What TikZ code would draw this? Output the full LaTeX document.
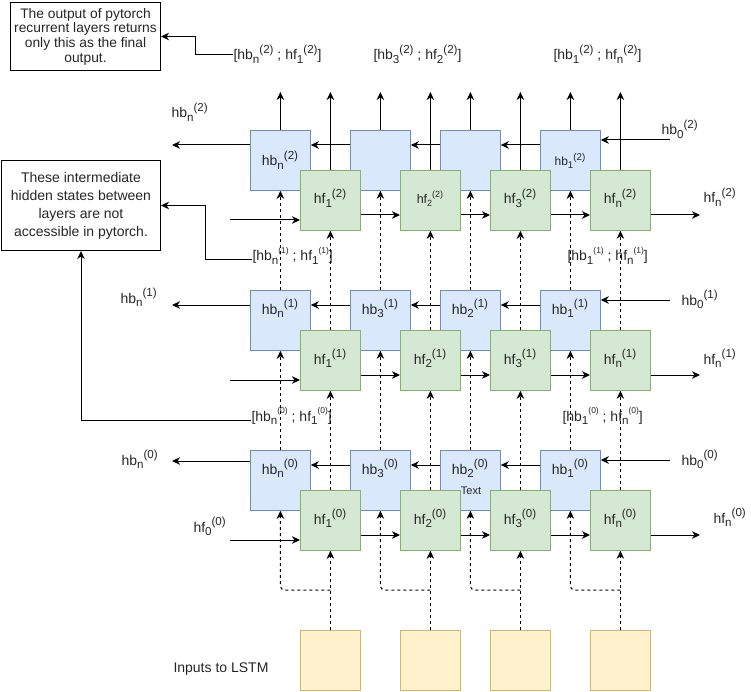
\documentclass[tikz,border=0pt]{standalone}
\usepackage{fontspec}
\setmainfont{Liberation Sans}
\usetikzlibrary{arrows.meta}
\definecolor{bfill}{HTML}{DAE8FC}\definecolor{bdraw}{HTML}{6C8EBF}
\definecolor{gfill}{HTML}{D5E8D4}\definecolor{gdraw}{HTML}{82B366}
\definecolor{yfill}{HTML}{FFF2CC}\definecolor{ydraw}{HTML}{D6B656}
\definecolor{txt}{HTML}{262626}
% base, subscript, superscript (superscript after subscript, as in HTML)
\newcommand\sx[4][11.6]{#2\raisebox{-0.22em}{\fontsize{#1}{#1}\selectfont #3}\raisebox{0.48em}{\fontsize{#1}{#1}\selectfont #4}}
\newcommand\sxs[3]{#1\raisebox{-0.22em}{\fontsize{11.6}{11.6}\selectfont #2}\raisebox{0.55em}{\fontsize{8.5}{8.5}\selectfont #3}}
\begin{document}
\begin{tikzpicture}[x=1pt,y=-1pt,line width=1pt,
  every node/.style={font=\fontsize{14}{16.8}\selectfont,text=txt,inner sep=0pt},
  boxbase/.style={minimum width=60pt,minimum height=60pt,anchor=north west,line width=0.8pt},
  hbbox/.style={boxbase,draw=bdraw,fill=bfill},
  hfbox/.style={boxbase,draw=gdraw,fill=gfill},
  inbox/.style={boxbase,draw=ydraw,fill=yfill},
  lbl/.style={anchor=base},
  lblw/.style={anchor=base west},
  arr/.style={-{Stealth[length=8pt,width=7.5pt,inset=2.5pt]}},
  dsh/.style={arr,dash pattern=on 3pt off 3pt},
  note/.style={draw,anchor=north west,align=center,line width=1pt}]
\useasboundingbox (0,0) rectangle (751,692);

% ---------- notes ----------
\node[note,minimum width=150pt,minimum height=68pt,font=\fontsize{13.8}{14.7}\selectfont] (note1) at (10,2)
  {The output of pytorch\\recurrent layers returns\\only this as the final\\output.};
\node[note,minimum width=159pt,minimum height=90pt,font=\fontsize{14}{18}\selectfont] (note2) at (1,160)
  {These intermediate\\hidden states between\\layers are not\\accessible in pytorch.};

% ---------- layer 2 ----------
\node[hbbox] (hb2a) at (250,130) {};
\node[hbbox] (hb2b) at (350,130) {};
\node[hbbox] (hb2c) at (440,130) {};
\node[hbbox] (hb2d) at (540,130) {};
\node[hfbox] (hf2a) at (300,170) {};
\node[hfbox] (hf2b) at (400,170) {};
\node[hfbox] (hf2c) at (490,170) {};
\node[hfbox] (hf2d) at (590,170) {};
% ---------- layer 1 ----------
\node[hbbox] (hb1a) at (250,290) {};
\node[hbbox] (hb1b) at (350,290) {};
\node[hbbox] (hb1c) at (440,290) {};
\node[hbbox] (hb1d) at (540,290) {};
\node[hfbox] (hf1a) at (300,330) {};
\node[hfbox] (hf1b) at (400,330) {};
\node[hfbox] (hf1c) at (490,330) {};
\node[hfbox] (hf1d) at (590,330) {};
% ---------- layer 0 ----------
\node[hbbox] (hb0a) at (250,450) {};
\node[hbbox] (hb0b) at (350,450) {};
\node[hbbox] (hb0c) at (440,450) {};
\node[hbbox] (hb0d) at (540,450) {};
\node[hfbox] (hf0a) at (300,490) {};
\node[hfbox] (hf0b) at (400,490) {};
\node[hfbox] (hf0c) at (490,490) {};
\node[hfbox] (hf0d) at (590,490) {};
% ---------- inputs ----------
\node[inbox] (ina) at (300,630) {};
\node[inbox] (inb) at (400,630) {};
\node[inbox] (inc) at (490,630) {};
\node[inbox] (ind) at (590,630) {};

% ---------- labels inside boxes ----------
\node[lbl] (t2a) at (280,166) {\sx{hb}{n}{(2)}};
\node[lbl,font=\fontsize{12}{14}\selectfont] (t2d) at (570,166) {\sx[9.8]{hb}{1}{(2)}};
\node[lbl] (u2a) at (330,204) {\sx{hf}{1}{(2)}};
\node[lbl,font=\fontsize{12.5}{14}\selectfont] (u2b) at (430,204) {\sx[9]{hf}{2}{(2)}};
\node[lbl] (u2c) at (520,204) {\sx{hf}{3}{(2)}};
\node[lbl] (u2d) at (620,204) {\sx{hf}{n}{(2)}};

\node[lbl] (t1a) at (280,314) {\sx{hb}{n}{(1)}};
\node[lbl] (t1b) at (380,314) {\sx{hb}{3}{(1)}};
\node[lbl] (t1c) at (470,314) {\sx{hb}{2}{(1)}};
\node[lbl] (t1d) at (570,314) {\sx{hb}{1}{(1)}};
\node[lbl] (u1a) at (330,364) {\sx{hf}{1}{(1)}};
\node[lbl] (u1b) at (430,364) {\sx{hf}{2}{(1)}};
\node[lbl] (u1c) at (520,364) {\sx{hf}{3}{(1)}};
\node[lbl] (u1d) at (620,364) {\sx{hf}{n}{(1)}};

\node[lbl] (t0a) at (280,474) {\sx{hb}{n}{(0)}};
\node[lbl] (t0b) at (380,474) {\sx{hb}{3}{(0)}};
\node[lbl] (t0c) at (470,474) {\sx{hb}{2}{(0)}};
\node[lbl] (t0d) at (570,474) {\sx{hb}{1}{(0)}};
\node[lbl,font=\fontsize{11}{13}\selectfont] (txt0c) at (471,494) {Text};
\node[lbl] (u0a) at (330,524) {\sx{hf}{1}{(0)}};
\node[lbl] (u0b) at (430,524) {\sx{hf}{2}{(0)}};
\node[lbl] (u0c) at (520,524) {\sx{hf}{3}{(0)}};
\node[lbl] (u0d) at (620,524) {\sx{hf}{n}{(0)}};

% ---------- outside labels ----------
\node[lblw] (ohbn2) at (171,118) {\sx{hb}{n}{(2)}};
\node[lblw] (ohb02) at (661,135) {\sx{hb}{0}{(2)}};
\node[lblw] (ohfn2) at (703,203) {\sx{hf}{n}{(2)}};
\node[lblw] (ohbn1) at (120,303) {\sx{hb}{n}{(1)}};
\node[lblw] (ohb01) at (681,305) {\sx{hb}{0}{(1)}};
\node[lblw] (ohfn1) at (703,364) {\sx{hf}{n}{(1)}};
\node[lblw] (ohbn0) at (121,465) {\sx{hb}{n}{(0)}};
\node[lblw] (ohb00) at (681,465) {\sx{hb}{0}{(0)}};
\node[lblw] (ohfn0) at (713,523) {\sx{hf}{n}{(0)}};
\node[lblw] (ohf00) at (193,532) {\sx{hf}{0}{(0)}};
\node[lblw] (inlbl) at (173,672) {Inputs to LSTM};

% ---------- bracket labels ----------
\node[lblw] (lb2a) at (233,60) {{[}\sx{hb}{n}{(2)} ; \sx{hf}{1}{(2)}{]}};
\node[lblw] (lb2b) at (373,60) {{[}\sx{hb}{3}{(2)} ; \sx{hf}{2}{(2)}{]}};
\node[lblw] (lb2c) at (553,60) {{[}\sx{hb}{1}{(2)} ; \sx{hf}{n}{(2)}{]}};
\node[lblw] (lb1a) at (252,261) {{[}\sxs{hb}{n}{(1)} ; \sxs{hf}{1}{(1)}{]}};
\node[lblw] (lb1b) at (567,261) {{[}\sxs{hb}{1}{(1)} ; \sxs{hf}{n}{(1)}{]}};
\node[lblw] (lb0a) at (251,421) {{[}\sxs{hb}{n}{(0)} ; \sxs{hf}{1}{(0)}{]}};
\node[lblw] (lb0b) at (562,421) {{[}\sxs{hb}{1}{(0)} ; \sxs{hf}{n}{(0)}{]}};

% ---------- free ends ----------
\coordinate (o2) at (172,145); \coordinate (i2) at (670,140);
\coordinate (f2) at (700,215); \coordinate (g2) at (230,220);
\coordinate (o1) at (172,305); \coordinate (i1) at (670,300);
\coordinate (f1) at (700,375); \coordinate (g1) at (230,380);
\coordinate (o0) at (172,461); \coordinate (i0) at (670,460);
\coordinate (f0) at (700,535); \coordinate (g0) at (230,540);

% ---------- top outputs ----------
\foreach \n in {hb2a,hb2b,hb2c,hb2d,hf2a,hf2b,hf2c,hf2d}
  \draw[arr] (\n.north) -- (\n.north |- 0,92);

% ---------- recurrent chains ----------
\draw[arr] (i2) -- (hb2d.east |- i2);
\draw[arr] (hb2d.west |- 0,145) -- (hb2c.east |- 0,145);
\draw[arr] (hb2c.west |- 0,145) -- (hb2b.east |- 0,145);
\draw[arr] (hb2b.west |- 0,145) -- (hb2a.east |- 0,145);
\draw[arr] (hb2a.west |- o2) -- (o2);
\draw[arr] (g2) -- (hf2a.west |- g2);
\draw[arr] (hf2a.east |- 0,215) -- (hf2b.west |- 0,215);
\draw[arr] (hf2b.east |- 0,215) -- (hf2c.west |- 0,215);
\draw[arr] (hf2c.east |- 0,215) -- (hf2d.west |- 0,215);
\draw[arr] (hf2d.east |- f2) -- (f2);

\draw[arr] (i1) -- (hb1d.east |- i1);
\draw[arr] (hb1d.west |- 0,305) -- (hb1c.east |- 0,305);
\draw[arr] (hb1c.west |- 0,305) -- (hb1b.east |- 0,305);
\draw[arr] (hb1b.west |- 0,305) -- (hb1a.east |- 0,305);
\draw[arr] (hb1a.west |- o1) -- (o1);
\draw[arr] (g1) -- (hf1a.west |- g1);
\draw[arr] (hf1a.east |- 0,375) -- (hf1b.west |- 0,375);
\draw[arr] (hf1b.east |- 0,375) -- (hf1c.west |- 0,375);
\draw[arr] (hf1c.east |- 0,375) -- (hf1d.west |- 0,375);
\draw[arr] (hf1d.east |- f1) -- (f1);

\draw[arr] (i0) -- (hb0d.east |- i0);
\draw[arr] (hb0d.west |- 0,465) -- (hb0c.east |- 0,465);
\draw[arr] (hb0c.west |- 0,465) -- (hb0b.east |- 0,465);
\draw[arr] (hb0b.west |- 0,465) -- (hb0a.east |- 0,465);
\draw[arr] (hb0a.west |- o0) -- (o0);
\draw[arr] (g0) -- (hf0a.west |- g0);
\draw[arr] (hf0a.east |- 0,535) -- (hf0b.west |- 0,535);
\draw[arr] (hf0b.east |- 0,535) -- (hf0c.west |- 0,535);
\draw[arr] (hf0c.east |- 0,535) -- (hf0d.west |- 0,535);
\draw[arr] (hf0d.east |- f0) -- (f0);

% ---------- vertical dashed links ----------
\foreach \c in {a,b,c,d}{
  \draw[dsh] (hb0\c.north) -- (hb1\c.south);
  \draw[dsh] (hb1\c.north) -- (hb2\c.south);
  \draw[dsh] (hf0\c.north) -- (hf1\c.south);
  \draw[dsh] (hf1\c.north) -- (hf2\c.south);
  \draw[dsh] (in\c.north) -- (hf0\c.south);
  \draw[dsh,rounded corners=4pt] (in\c.north |- 0,590) -- (hb0\c.south |- 0,590) -- (hb0\c.south);
}

% ---------- note connectors ----------
\draw[arr] ([yshift=5pt]lb2a.base west) -- ([yshift=5pt]lb2a.base west -| 195,0) |- (note1.east);
\draw[arr] ([yshift=1pt]lb1a.base west) -- ([yshift=1pt]lb1a.base west -| 205,0) |- (note2.east);
\draw[arr] ([yshift=1pt]lb0a.base west) -| (note2.south);
\end{tikzpicture}
\end{document}
